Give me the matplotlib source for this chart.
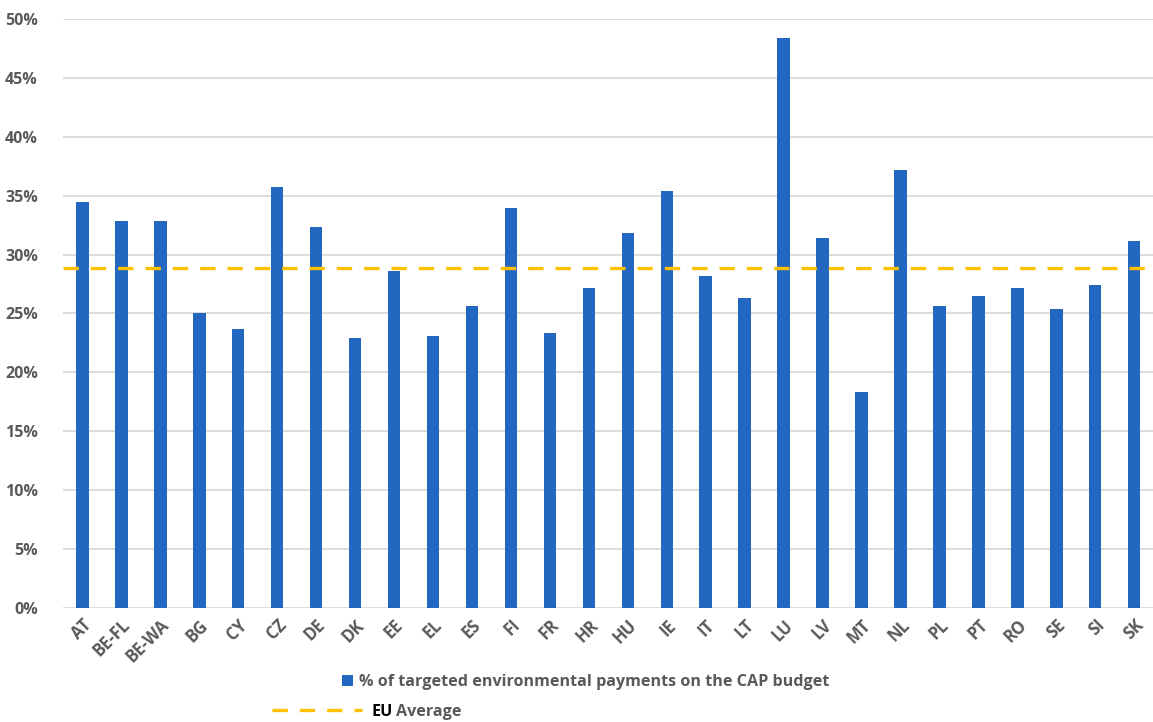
import matplotlib.pyplot as plt
from matplotlib.lines import Line2D
from matplotlib.patches import Patch
from matplotlib.ticker import FuncFormatter
import numpy as np

plt.rcParams['font.family'] = ['Open Sans', 'DejaVu Sans']

# Share of targeted environmental payments in the CAP budget, per member state
countries = ['AT', 'BE-FL', 'BE-WA', 'BG', 'CY', 'CZ', 'DE', 'DK', 'EE', 'EL',
             'ES', 'FI', 'FR', 'HR', 'HU', 'IE', 'IT', 'LT', 'LU', 'LV',
             'MT', 'NL', 'PL', 'PT', 'RO', 'SE', 'SI', 'SK']
shares = [34.5, 32.85, 32.85, 25.0, 23.7, 35.7, 32.3, 22.9, 28.6, 23.05,
          25.65, 33.95, 23.3, 27.2, 31.85, 35.35, 28.15, 26.3, 48.4, 31.4,
          18.3, 37.2, 25.65, 26.45, 27.2, 25.35, 27.45, 31.15]
eu_average = 28.85

bar_color = '#2367C1'
avg_color = '#FFC000'
grey = '#595959'

fig = plt.figure(figsize=(11.53, 7.22), dpi=100)
ax = fig.add_axes([0.0546, 0.158, 0.946, 0.8158])

x = np.arange(len(countries))
ax.bar(x, shares, width=0.32, color=bar_color, zorder=3)
ax.plot([-0.5, len(countries) - 0.5], [eu_average, eu_average], color=avg_color,
        lw=2.4, dashes=(4.6, 3.6), zorder=4)

ax.set_xlim(-0.5, len(countries) - 0.5)
ax.set_ylim(0, 50)
ax.set_yticks(np.arange(0, 51, 5))
ax.yaxis.set_major_formatter(FuncFormatter(lambda v, _: f'{v:.0f}%'))
ax.grid(axis='y', color='#D9D9D9', lw=1.3, zorder=0)
ax.set_axisbelow(True)
for s in ax.spines.values():
    s.set_visible(False)
ax.tick_params(axis='both', length=0, colors=grey, labelsize=11.5)
ax.tick_params(axis='y', pad=18)
ax.tick_params(axis='x', pad=6, labelsize=12)
ax.set_xticks(x)
ax.set_xticklabels(countries, rotation=45, ha='right', rotation_mode='anchor',
                   fontweight='bold')
for lbl in ax.get_yticklabels():
    lbl.set_fontweight('bold')

# legend rows below the plot
leg1 = fig.legend(handles=[Patch(facecolor=bar_color)],
                  labels=['% of targeted environmental payments on the CAP budget'],
                  loc='center', bbox_to_anchor=(0.508, 0.055), frameon=False,
                  handlelength=0.7, handleheight=0.7, handletextpad=0.4,
                  prop={'weight': 'bold', 'size': 11.6})
for t in leg1.get_texts():
    t.set_color(grey)

leg2 = fig.legend(handles=[Line2D([0], [0], color=avg_color, lw=2.4, dashes=(4.6, 3.6))],
                  labels=['EU'], loc='center left', bbox_to_anchor=(0.223, 0.014),
                  frameon=False, handlelength=5.6, handletextpad=0.6,
                  prop={'weight': 'bold', 'size': 11.6})
leg2.get_texts()[0].set_color('black')

fig.canvas.draw()
bb = leg2.get_texts()[0].get_window_extent().transformed(fig.transFigure.inverted())
fig.text(bb.x1 + 0.003, (bb.y0 + bb.y1) / 2, 'Average', color=grey,
         fontsize=11.6, fontweight='bold', va='center', ha='left')

fig.savefig('out.png', dpi=100)
